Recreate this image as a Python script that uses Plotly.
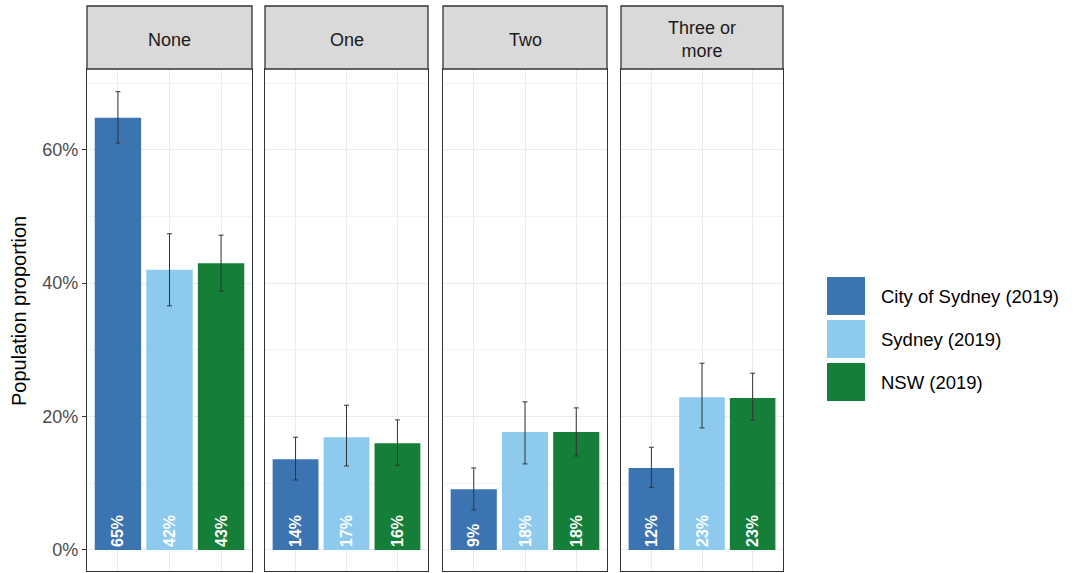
import plotly.graph_objects as go
from plotly.subplots import make_subplots

# Number of categories shown as facets
panels = ["None", "One", "Two", "Three or<br>more"]
series = ["City of Sydney (2019)", "Sydney (2019)", "NSW (2019)"]
colors = ["#3C74B2", "#8DCAEE", "#157F3A"]

# Estimated proportions, one list per series, ordered by panel
city_vals = [0.648, 0.136, 0.091, 0.123]
syd_vals = [0.420, 0.169, 0.177, 0.229]
nsw_vals = [0.430, 0.160, 0.177, 0.228]

# 95% interval bounds
city_hi = [0.687, 0.169, 0.123, 0.154]
city_lo = [0.610, 0.105, 0.060, 0.094]
syd_hi = [0.474, 0.217, 0.222, 0.280]
syd_lo = [0.366, 0.126, 0.129, 0.183]
nsw_hi = [0.472, 0.195, 0.213, 0.265]
nsw_lo = [0.388, 0.127, 0.141, 0.195]

values = [city_vals, syd_vals, nsw_vals]
upper = [city_hi, syd_hi, nsw_hi]
lower = [city_lo, syd_lo, nsw_lo]

W, H = 1074, 573
panel_px = [(87, 252), (265, 428), (443, 607), (621, 783)]
plot_top, plot_bot = 69, 571
strip_top = 6
FONT = "Liberation Sans"


def px_x(p):
    return p / W


def px_y(p):
    return 1 - p / H


fig = make_subplots(rows=1, cols=4, shared_yaxes=True)

for c in range(4):
    for s in range(3):
        v = values[s][c]
        fig.add_trace(
            go.Bar(
                x=[series[s]],
                y=[v],
                width=0.9,
                marker=dict(color=colors[s], line=dict(width=0)),
                error_y=dict(
                    type="data",
                    symmetric=False,
                    array=[upper[s][c] - v],
                    arrayminus=[v - lower[s][c]],
                    color="#333333",
                    thickness=1,
                    width=2.5,
                ),
                text=[f"{round(v * 100)}%"],
                textposition="inside",
                insidetextanchor="start",
                textangle=-90,
                textfont=dict(family=FONT, size=16, color="white", weight="bold"),
                showlegend=False,
                hoverinfo="skip",
            ),
            row=1,
            col=c + 1,
        )

ydom = [px_y(plot_bot), px_y(plot_top)]
for c, (x0, x1) in enumerate(panel_px):
    xa = "xaxis" if c == 0 else f"xaxis{c + 1}"
    ya = "yaxis" if c == 0 else f"yaxis{c + 1}"
    fig.layout[xa].update(
        domain=[px_x(x0), px_x(x1)],
        type="category",
        categoryorder="array",
        categoryarray=series,
        range=[-0.6, 2.6],
        showticklabels=False,
        ticks="",
        showgrid=True,
        gridcolor="#EBEBEB",
        gridwidth=1,
        showline=True,
        linecolor="#333333",
        linewidth=1.3,
        mirror=True,
        zeroline=False,
    )
    fig.layout[ya].update(
        domain=ydom,
        range=[-0.0315, 0.721],
        tickvals=[0, 0.2, 0.4, 0.6],
        ticktext=["0%", "20%", "40%", "60%"],
        showticklabels=(c == 0),
        ticks="outside" if c == 0 else "",
        ticklen=4,
        tickcolor="#333333",
        tickfont=dict(family=FONT, size=18, color="#4D4D4D"),
        showgrid=True,
        gridcolor="#EBEBEB",
        gridwidth=1.1,
        minor=dict(tickvals=[0.1, 0.3, 0.5, 0.7], showgrid=True, gridcolor="#F3F3F3", gridwidth=0.6),
        showline=True,
        linecolor="#333333",
        linewidth=1.3,
        mirror=True,
        zeroline=False,
    )
    # facet strip
    fig.add_shape(
        type="rect",
        xref="paper",
        yref="paper",
        x0=px_x(x0),
        x1=px_x(x1),
        y0=px_y(plot_top),
        y1=px_y(strip_top),
        fillcolor="#D9D9D9",
        line=dict(color="#333333", width=1.3),
        layer="above",
    )
    fig.add_annotation(
        xref="paper",
        yref="paper",
        x=px_x((x0 + x1) / 2),
        y=px_y((plot_top + strip_top) / 2 + 2),
        text=panels[c],
        showarrow=False,
        font=dict(family=FONT, size=18, color="#1A1A1A"),
        xanchor="center",
        yanchor="middle",
    )

# y-axis title
fig.add_annotation(
    xref="paper",
    yref="paper",
    x=px_x(19),
    y=px_y(311),
    text="Population proportion",
    textangle=-90,
    showarrow=False,
    xanchor="center",
    yanchor="middle",
    font=dict(family=FONT, size=20, color="#000000"),
)

# legend drawn as key boxes with labels
key_x0, key_x1 = 827, 865
key_tops = [277, 320, 363]
for s in range(3):
    t = key_tops[s]
    fig.add_shape(
        type="rect",
        xref="paper",
        yref="paper",
        x0=px_x(key_x0),
        x1=px_x(key_x1),
        y0=px_y(t + 38),
        y1=px_y(t),
        fillcolor=colors[s],
        line=dict(width=0),
    )
    fig.add_annotation(
        xref="paper",
        yref="paper",
        x=px_x(879),
        y=px_y(t + 19),
        text=series[s],
        showarrow=False,
        xanchor="left",
        yanchor="middle",
        font=dict(family=FONT, size=18.5, color="#000000"),
    )

fig.update_layout(
    width=W,
    height=H,
    margin=dict(l=0, r=0, t=0, b=0),
    paper_bgcolor="white",
    plot_bgcolor="white",
    barmode="group",
    showlegend=False,
    uniformtext=dict(minsize=8, mode="show"),
)

fig.write_html("out.html")
